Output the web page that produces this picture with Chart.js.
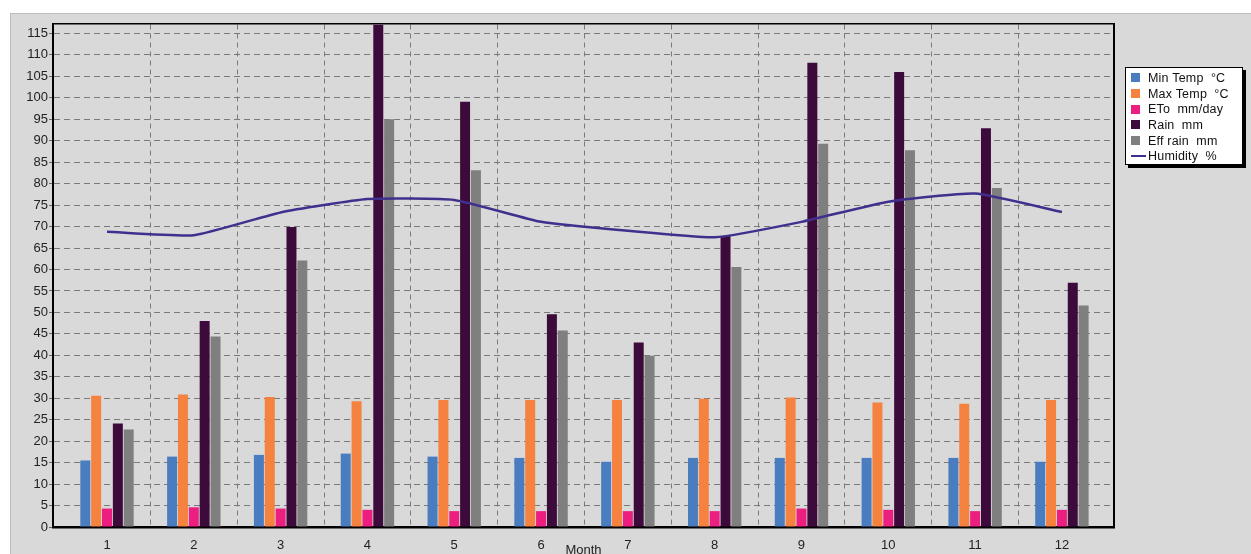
<!DOCTYPE html>
<html lang="en">
<head>
    <meta charset="UTF-8">
    <title>Climate chart</title>
    <style>
        html, body {
            margin: 0;
            padding: 0;
            background: #ffffff;
            font-family: "Liberation Sans", Arial, sans-serif;
        }

        #wrap {
            position: relative;
            width: 1251px;
            height: 554px;
            overflow: hidden;
        }

        #panel {
            position: absolute;
            left: 10px;
            top: 13px;
            width: 1245px;
            height: 545px;
            background: #d9d9d9;
            border: 1px solid #bcbcbc;
        }

        #chart {
            position: absolute;
            left: 0;
            top: 0;
        }

        #legend {
            position: absolute;
            left: 1125px;
            top: 67px;
            width: 118px;
            height: 98px;
            background: #ffffff;
            border: 1px solid #000;
            box-shadow: 3px 3px 0 #000;
            padding: 2px 0 0 5px;
            box-sizing: border-box;
            font-size: 12.5px;
            letter-spacing: 0.2px;
            color: #111;
            overflow: hidden;
        }

        .item {
            height: 15.7px;
            display: flex;
            align-items: center;
            white-space: pre;
        }

        .swatch {
            width: 9px;
            height: 9px;
            margin-right: 8px;
            flex: none;
        }

        .dash {
            width: 15px;
            height: 2px;
            margin-right: 2px;
            flex: none;
        }
    </style>
    <script src="https://cdn.jsdelivr.net/npm/chart.js"></script>
</head>
<body>
<div id="wrap">
    <div id="panel"></div>
    <canvas id="chart" width="1251" height="554"></canvas>
    <div id="legend"></div>
</div>

<script>
    // datos
    const months = [1, 2, 3, 4, 5, 6, 7, 8, 9, 10, 11, 12];
    const minTemp = [15.5, 16.4, 16.8, 17.1, 16.4, 16.1, 15.2, 16.1, 16.1, 16.1, 16.1, 15.2];
    const maxTemp = [30.6, 30.9, 30.3, 29.3, 29.6, 29.6, 29.6, 29.9, 30.2, 29.0, 28.7, 29.6];
    const eto = [4.3, 4.6, 4.3, 4.0, 3.7, 3.7, 3.7, 3.7, 4.3, 4.0, 3.7, 4.0];
    const rain = [24.1, 48.0, 69.9, 117.0, 99.1, 49.6, 43.0, 67.8, 108.2, 106.0, 92.9, 56.9];
    const effRain = [22.7, 44.4, 62.1, 95.0, 83.1, 45.8, 39.9, 60.6, 89.3, 87.8, 79.0, 51.6];
    const humidity = [68.8, 68.0, 73.3, 76.4, 76.2, 71.1, 69.0, 67.5, 71.1, 75.8, 77.7, 73.4];
    const yTicks = [0, 5, 10, 15, 20, 25, 30, 35, 40, 45, 50, 55, 60, 65, 70, 75, 80, 85, 90, 95, 100, 105, 110, 115];

    const xMin = 0.378, xMax = 12.6, yMax = 117.2;
    const font = { family: '"Liberation Sans", Arial, sans-serif', size: 13 };
    const toPts = arr => arr.map((v, i) => ({ x: months[i], y: v }));

    function bars(label, values, color) {
        return {
            type: 'bar', label: label, data: toPts(values),
            backgroundColor: color, borderWidth: 0,
            xAxisID: 'x', yAxisID: 'y', order: 1, clip: 0,
            categoryPercentage: 0.625, barPercentage: 0.92
        };
    }

    const chart = new Chart(document.getElementById('chart'), {
        data: {
            datasets: [
                bars('Min Temp  °C', minTemp, '#4a7cc0'),
                bars('Max Temp  °C', maxTemp, '#f5823f'),
                bars('ETo  mm/day', eto, '#ec1f80'),
                bars('Rain  mm', rain, '#3d0b3b'),
                bars('Eff rain  mm', effRain, '#7f7f7f'),
                {
                    type: 'line', label: 'Humidity  %', data: toPts(humidity),
                    borderColor: '#40308e', borderWidth: 2.5, pointRadius: 0,
                    tension: 0.15, fill: false, order: 0,
                    xAxisID: 'x', yAxisID: 'y'
                }
            ]
        },
        options: {
            responsive: false,
            animation: false,
            layout: { padding: { top: 24, right: 137, left: 0, bottom: 0 } },
            plugins: { legend: { display: false }, tooltip: { enabled: false } },
            scales: {
                x: {
                    type: 'linear', position: 'bottom', min: xMin, max: xMax, offset: false,
                    afterBuildTicks: s => { s.ticks = months.map(v => ({ value: v })); },
                    afterFit: s => { s.height = 27; },
                    grid: { display: false, offset: false },
                    border: { display: true, color: '#000', width: 2.5 },
                    ticks: { font: font, color: '#222', padding: 3 },
                    title: { display: true, text: 'Month', font: font, color: '#222', padding: { top: 0, bottom: -4 } }
                },
                xGrid: {
                    type: 'linear', position: 'top', min: xMin, max: xMax, offset: false,
                    afterBuildTicks: s => { s.ticks = months.slice(0, 11).map(v => ({ value: v + 0.5 })); },
                    afterFit: s => { s.height = 0; },
                    grid: { color: '#7a7a7a', drawTicks: false, offset: false },
                    border: { display: true, color: '#000', width: 1.5, dash: [5, 4] },
                    ticks: { display: false }
                },
                y: {
                    type: 'linear', position: 'left', min: 0, max: yMax,
                    afterBuildTicks: s => { s.ticks = yTicks.map(v => ({ value: v })); },
                    afterFit: s => { s.width = 53; },
                    grid: { color: '#7a7a7a', tickLength: 4, tickColor: '#666' },
                    border: { display: true, color: '#000', width: 2, dash: [6, 4] },
                    ticks: { font: font, color: '#222', padding: 1 }
                },
                yRight: {
                    type: 'linear', position: 'right', min: 0, max: yMax, display: true,
                    afterFit: s => { s.width = 0; },
                    grid: { display: false },
                    border: { display: true, color: '#000', width: 2 },
                    ticks: { display: false }
                }
            }
        }
    });

    // leyenda en html a partir de los datasets
    const legend = document.getElementById('legend');
    chart.data.datasets.forEach(ds => {
        const row = document.createElement('div');
        row.className = 'item';
        const sw = document.createElement('span');
        if (ds.type === 'line') {
            sw.className = 'dash';
            sw.style.background = ds.borderColor;
        } else {
            sw.className = 'swatch';
            sw.style.background = ds.backgroundColor;
        }
        row.appendChild(sw);
        row.appendChild(document.createTextNode(ds.label));
        legend.appendChild(row);
    });
</script>
</body>
</html>
